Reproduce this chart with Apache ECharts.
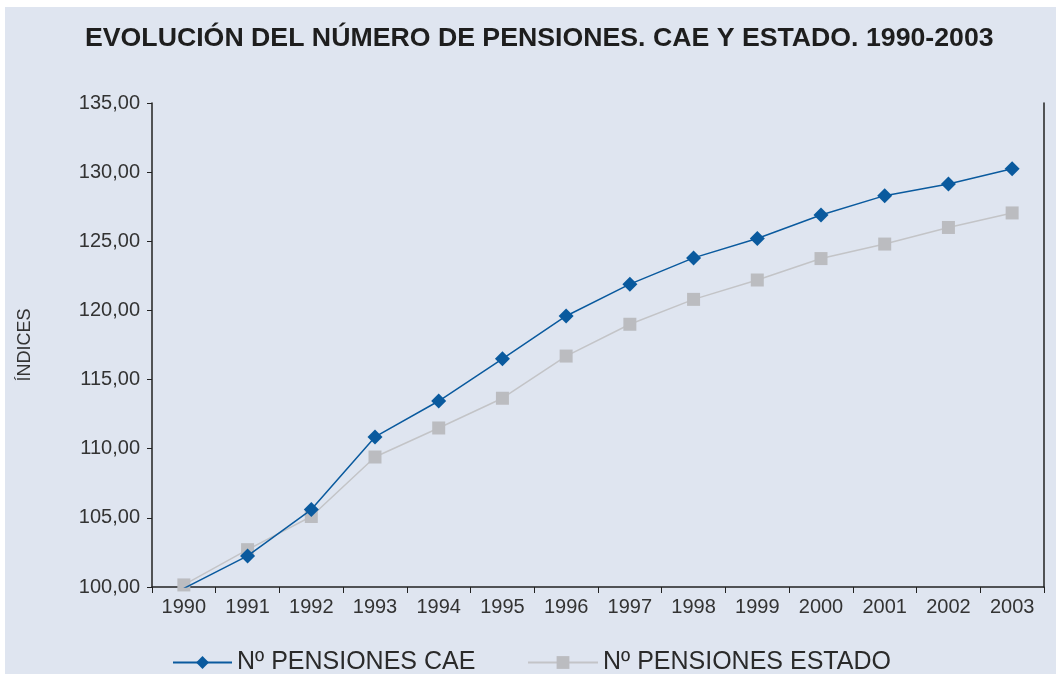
<!DOCTYPE html>
<html>
<head>
<meta charset="utf-8">
<script src="https://cdn.jsdelivr.net/npm/echarts@6/dist/echarts.min.js"></script>
<style>
html, body { margin: 0; padding: 0; background: #ffffff; width: 1056px; height: 674px; overflow: hidden; }
#main { position: absolute; left: 5px; top: 7px; width: 1051px; height: 667px; }
</style>
</head>
<body>
<div id="main"></div>
<script>
var years = ['1990', '1991', '1992', '1993', '1994', '1995', '1996', '1997', '1998', '1999', '2000', '2001', '2002', '2003'];
var pensionesCAE = [99.90, 102.25, 105.60, 110.85, 113.45, 116.50, 119.60, 121.90, 123.80, 125.20, 126.90, 128.30, 129.15, 130.25];
var pensionesEstado = [100.15, 102.70, 105.10, 109.40, 111.50, 113.65, 116.70, 119.00, 120.80, 122.20, 123.75, 124.80, 126.00, 127.05];
var yTicks = { min: 100, max: 135, interval: 5 };

var chart = echarts.init(document.getElementById('main'));

var axisColor = '#222222';
var labelFont = 'Liberation Sans';
var legendText = { fontFamily: labelFont, fontSize: 25, color: '#2a2a2a' };

option = {
    backgroundColor: '#dfe5f0',
    animation: false,
    title: {
        text: 'EVOLUCIÓN DEL NÚMERO DE PENSIONES. CAE Y ESTADO. 1990-2003',
        left: 75,
        top: 13,
        textStyle: {
            fontFamily: labelFont,
            fontSize: 26.7,
            fontWeight: 'bold',
            color: '#1e1e1e'
        }
    },
    // dos leyendas: cada una con su largo de línea
    legend: [{
        left: 162,
        top: 638,
        itemWidth: 59,
        itemHeight: 16,
        textStyle: legendText,
        data: ['Nº PENSIONES CAE']
    }, {
        left: 517,
        top: 638,
        itemWidth: 70,
        itemHeight: 16,
        textStyle: legendText,
        data: ['Nº PENSIONES ESTADO']
    }],
    grid: {
        left: 147,
        right: 12,
        top: 96,
        bottom: 87,
        containLabel: false
    },
    xAxis: [{
        type: 'category',
        boundaryGap: true,
        data: years,
        axisLine: { lineStyle: { color: axisColor, width: 1.5 } },
        axisTick: { show: true, length: 6, lineStyle: { color: axisColor } },
        axisLabel: {
            margin: 10,
            fontFamily: labelFont,
            fontSize: 20,
            color: '#333333'
        },
        splitLine: { show: false }
    }],
    yAxis: [{
        type: 'value',
        min: yTicks.min,
        max: yTicks.max,
        interval: yTicks.interval,
        name: 'ÍNDICES',
        nameLocation: 'middle',
        nameRotate: 90,
        nameGap: 118,
        nameTextStyle: {
            fontFamily: labelFont,
            fontSize: 18,
            color: '#333333'
        },
        axisLine: { show: true, lineStyle: { color: axisColor, width: 1.5 } },
        axisTick: { show: true, length: 5, lineStyle: { color: axisColor } },
        axisLabel: {
            margin: 12,
            fontFamily: labelFont,
            fontSize: 20,
            color: '#333333',
            formatter: function (v) { return v.toFixed(2).replace('.', ','); }
        },
        splitLine: { show: false }
    }, {
        // borde derecho del área
        type: 'value',
        position: 'right',
        min: yTicks.min,
        max: yTicks.max,
        interval: yTicks.interval,
        axisLine: { show: true, lineStyle: { color: axisColor, width: 1.5 } },
        axisTick: { show: false },
        axisLabel: { show: false },
        splitLine: { show: false }
    }],
    series: [
        {
            name: 'Nº PENSIONES CAE',
            type: 'line',
            data: pensionesCAE,
            symbol: 'diamond',
            symbolSize: 15,
            z: 3,
            lineStyle: { color: '#0a5a9e', width: 1.5 },
            itemStyle: { color: '#0a5a9e' }
        },
        {
            name: 'Nº PENSIONES ESTADO',
            type: 'line',
            data: pensionesEstado,
            symbol: 'rect',
            symbolSize: 13,
            z: 2,
            lineStyle: { color: '#c3c4c7', width: 1.5 },
            itemStyle: { color: '#bbbcc0' }
        }
    ]
};

chart.setOption(option);
</script>
</body>
</html>
